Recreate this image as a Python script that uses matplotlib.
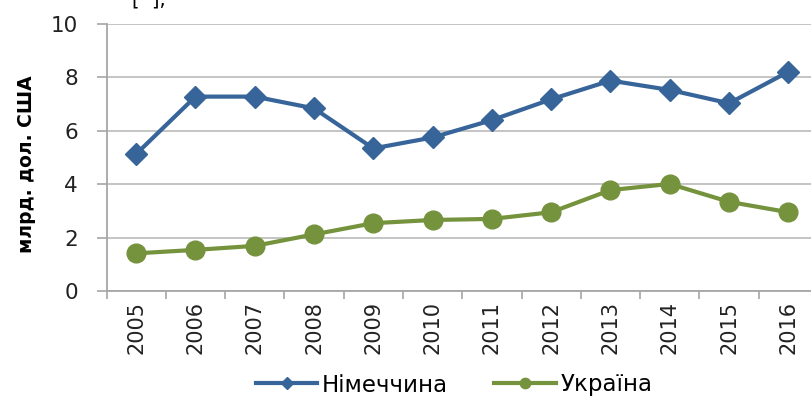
import matplotlib
matplotlib.use("Agg")
import matplotlib.pyplot as plt
import numpy as np

years = ["2005", "2006", "2007", "2008", "2009", "2010", "2011", "2012", "2013", "2014", "2015", "2016"]
germany = [5.13, 7.28, 7.28, 6.84, 5.34, 5.75, 6.40, 7.18, 7.88, 7.53, 7.03, 8.21]
ukraine = [1.41, 1.54, 1.69, 2.12, 2.54, 2.66, 2.70, 2.95, 3.78, 4.01, 3.34, 2.95]
yticks = [0, 2, 4, 6, 8, 10]
ylabel = "млрд. дол. США"
names = ["Німеччина", "Україна"]

plt.rcParams['font.family'] = ['DejaVu Sans']
fig = plt.figure(figsize=(8.11, 4.01), dpi=100)
W, H = 811, 401
left, right, top, bottom = 106.5, 818, 24, 291
ax = fig.add_axes([left / W, 1 - bottom / H, (right - left) / W, (bottom - top) / H])

x = np.arange(len(years))
blue = "#376499"
green = "#75923C"
ax.plot(x, germany, color=blue, lw=3, marker="D", ms=11, label=names[0], zorder=3, clip_on=False)
ax.plot(x, ukraine, color=green, lw=3, marker="o", ms=13.5, label=names[1], zorder=3, clip_on=False)

ax.set_xlim(-0.5, len(years) - 0.5)
ax.set_ylim(0, 10)
ax.set_yticks(yticks)
ax.set_yticklabels([str(v) for v in yticks], fontsize=15.5, color="#222222")
ax.set_xticks(x)
ax.set_xticklabels(years, rotation=90, fontsize=15, color="#222222")
ax.tick_params(axis="x", length=0, pad=7)
ax.set_xticks(np.arange(-0.5, len(years)), minor=True)
ax.tick_params(axis="x", which="minor", length=6, color="#A6A6A6", width=1.2)
ax.tick_params(axis="y", length=7, color="#A6A6A6", width=1.2, pad=13.5)
ax.grid(axis="y", color="#BFBFBF", lw=1.3)
ax.set_axisbelow(True)
for s in ["top", "right"]:
    ax.spines[s].set_visible(False)
for s in ["left", "bottom"]:
    ax.spines[s].set_color("#A6A6A6")
    ax.spines[s].set_linewidth(1.3)

ax.set_ylabel(ylabel, fontsize=13.5, fontweight="bold")
ax.yaxis.set_label_coords(-0.099, 0.475)

fig.legend(loc="center", bbox_to_anchor=(454 / W, 1 - 385 / H), ncol=2, frameon=False,
           fontsize=16.5, handlelength=2.7, columnspacing=2.0, handletextpad=0.2,
           markerscale=0.55)

fig.text(0.163, 1.0, "[  ],", fontsize=14, va="center", ha="left")

fig.savefig("out.png", dpi=100)
